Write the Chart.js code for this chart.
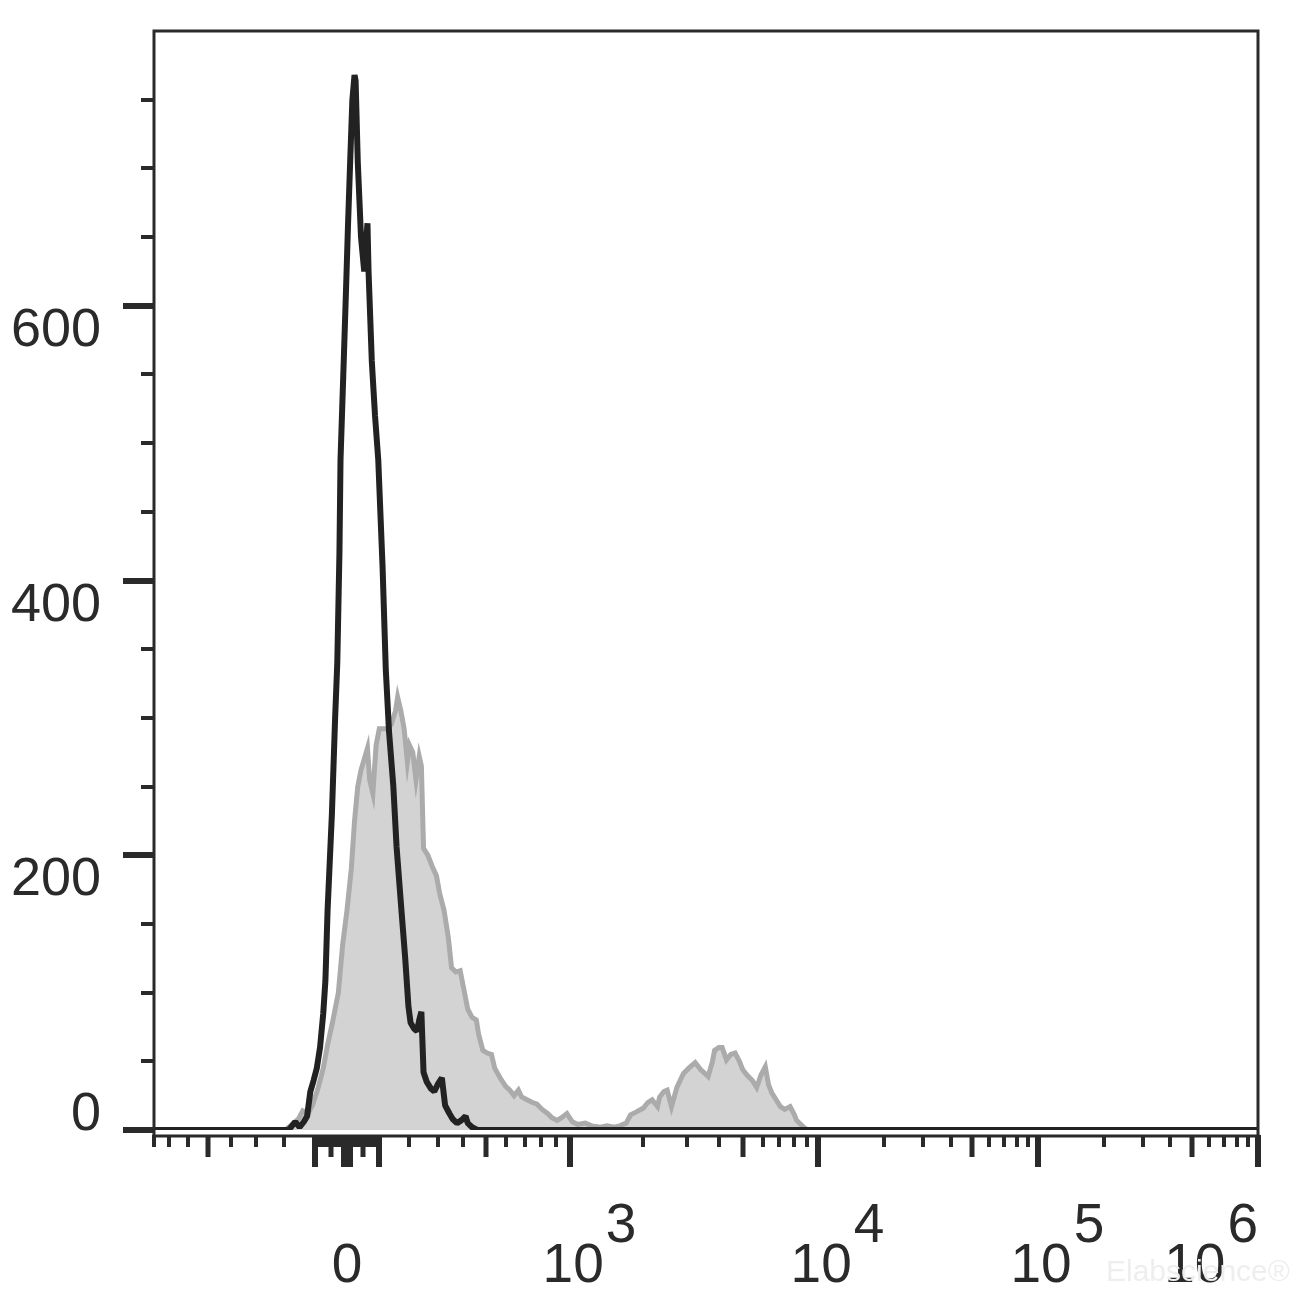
<!DOCTYPE html>
<html lang="en">
<head>
<meta charset="UTF-8" />
<title>Flow histogram overlay</title>
<script src="https://cdn.jsdelivr.net/npm/chart.js"></script>
<style>
  body { margin: 0; background: #fff; }
  #wrap { width: 1312px; height: 1310px; }
</style>
</head>
<body>
<div id="wrap"><canvas id="histChart" width="1312" height="1310"></canvas></div>
<script>
  // x = display channel (0..1024 across the axis), y = event count
  const blackChannels = [0, 124, 126, 131, 135, 139, 142, 145, 148, 151,
    154, 157, 159, 161, 163, 165, 168, 170, 172, 173,
    176, 178, 180, 182, 184, 186, 187, 189, 192, 195,
    198, 199, 202, 205, 208, 212, 215, 218, 222, 225,
    229, 233, 236, 238, 241, 244, 246, 248, 250, 253,
    257, 260, 263, 267, 270, 274, 277, 281, 285, 289,
    291, 295, 300, 1024];
  const blackCounts = [0, 0, 1, 6, 2, 6, 10, 28, 36, 45,
    60, 85, 109, 160, 195, 230, 300, 340, 420, 488,
    560, 609, 660, 706, 750, 768, 764, 705, 650, 625,
    660, 625, 560, 520, 488, 410, 335, 290, 250, 206,
    165, 125, 90, 78, 74, 72, 80, 86, 42, 35,
    30, 28, 33, 38, 18, 12, 8, 5, 7, 10,
    5, 2, 0, 0];

  const greyChannels = [0, 122, 128, 134, 138, 143, 147, 152, 157, 161,
    166, 171, 175, 179, 183, 186, 189, 192, 195, 198,
    200, 203, 206, 209, 212, 216, 220, 224, 226, 229,
    232, 235, 237, 240, 243, 246, 248, 250, 254, 258,
    262, 265, 269, 273, 276, 280, 284, 288, 291, 295,
    299, 301, 305, 309, 313, 316, 321, 326, 330, 334,
    338, 341, 346, 351, 355, 360, 365, 369, 374, 378,
    383, 388, 393, 400, 406, 414, 420, 427, 432, 438,
    442, 447, 454, 458, 462, 467, 469, 473, 476, 480,
    485, 491, 496, 502, 507, 514, 518, 520, 524, 527,
    531, 535, 539, 543, 546, 550, 555, 559, 563, 567,
    570, 573, 577, 581, 585, 590, 594, 596, 600, 604,
    607, 1024];
  const greyCounts = [0, 0, 4, 8, 14, 12, 18, 30, 45, 62,
    80, 100, 135, 160, 190, 225, 250, 262, 270, 278,
    255, 245, 280, 292, 292, 292, 295, 305, 315, 305,
    292, 268, 280, 275, 255, 272, 265, 205, 200, 192,
    185, 172, 160, 140, 118, 115, 116, 100, 88, 82,
    80, 70, 58, 56, 55, 45, 38, 32, 29, 25,
    29, 24, 22, 20, 19, 15, 12, 9, 7, 9,
    12, 6, 4, 5, 3, 2, 3, 2, 3, 5,
    11, 13, 16, 20, 22, 17, 24, 28, 29, 17,
    31, 41, 45, 49, 44, 39, 50, 58, 60, 60,
    51, 55, 56, 50, 44, 40, 36, 31, 40, 46,
    33, 27, 22, 17, 15, 17, 11, 7, 4, 1,
    0, 0];

  const yMajorTicks = [0, 200, 400, 600];
  const yMinorTicks = [50, 100, 150, 250, 300, 350, 450, 500, 550, 650, 700, 750];
  const xLabelValues = [0, 1e3, 1e4, 1e5, 1e6];
  const xLabelExponents = ['', '3', '4', '5', '6'];

  const INK = '#2a2a2a';
  const FONT = '"Liberation Sans", Arial, sans-serif';

  // biexponential-ish display transform, intensity -> channel
  function toChannel(v) {
    const a = Math.abs(v), s = Math.sign(v);
    if (a <= 1000) return 179 + s * 134.5 * Math.asinh(a / 450);
    if (a <= 1e4) return 384 + 232 * Math.log10(a / 1000);
    return 616 + 204 * Math.log10(a / 1e4);
  }

  function buildXTicks() {
    const ticks = [{ v: 0, size: 'major' }];
    [10, 100, 1000, 1e4, 1e5].forEach(d => {
      for (let m = 1; m <= 9; m++) {
        const size = m === 1 ? 'major' : (m === 5 ? 'mid' : 'minor');
        ticks.push({ v: m * d, size });
        if (d <= 100 && m * d <= 800) ticks.push({ v: -m * d, size });
      }
    });
    ticks.push({ v: 1e6, size: 'major' });
    return ticks;
  }

  const flowAxes = {
    id: 'flowAxes',
    afterDraw(chart) {
      const { ctx, chartArea: area, scales: { x, y } } = chart;
      const axisY = area.bottom + 6;
      ctx.save();
      ctx.fillStyle = INK;
      ctx.strokeStyle = INK;

      // frame
      ctx.lineWidth = 3;
      ctx.beginPath();
      ctx.moveTo(area.left, axisY);
      ctx.lineTo(area.left, area.top);
      ctx.lineTo(area.right, area.top);
      ctx.lineTo(area.right, axisY);
      ctx.stroke();
      ctx.beginPath();
      ctx.moveTo(area.left - 1.5, axisY);
      ctx.lineTo(area.right + 1.5, axisY);
      ctx.stroke();

      // x ticks
      const dims = { major: [6, 32], mid: [5, 22], minor: [4, 12] };
      buildXTicks().forEach(t => {
        const ch = Math.max(0, Math.min(1024, toChannel(t.v)));
        const px = Math.round(x.getPixelForValue(ch));
        const [w, len] = dims[t.size];
        ctx.fillRect(px - w / 2, axisY - 1, w, len);
      });

      // y ticks
      yMajorTicks.forEach(v => {
        const py = Math.round(y.getPixelForValue(v));
        ctx.fillRect(area.left - 31, py - 3, 31, 6);
      });
      yMinorTicks.forEach(v => {
        const py = Math.round(y.getPixelForValue(v));
        ctx.fillRect(area.left - 13, py - 2, 13, 4);
      });

      // y labels
      ctx.font = '54px ' + FONT;
      ctx.textAlign = 'right';
      ctx.textBaseline = 'alphabetic';
      yMajorTicks.forEach(v => {
        const py = y.getPixelForValue(v);
        ctx.fillText(String(v), 101, v === 0 ? py : py + 40);
      });

      // x labels
      ctx.font = '55px ' + FONT;
      const base = area.bottom + 152;
      xLabelValues.forEach((v, i) => {
        const px = x.getPixelForValue(toChannel(v));
        const exp = xLabelExponents[i];
        if (!exp) {
          ctx.textAlign = 'center';
          ctx.fillText('0', px, base);
          return;
        }
        const wMain = ctx.measureText('10').width;
        const wExp = ctx.measureText(exp).width;
        let left = px + 3 - wMain / 2;
        if (left + wMain + 2 + wExp > area.right) left = area.right - wExp - 2 - wMain;
        ctx.textAlign = 'left';
        ctx.fillText('10', left, base);
        ctx.fillText(exp, left + wMain + 2, base - 40);
      });

      // watermark
      ctx.fillStyle = '#eeeeee';
      ctx.font = '30px ' + FONT;
      ctx.textAlign = 'left';
      ctx.fillText('Elabscience\u00AE', 1106, 1281);
      ctx.restore();
    }
  };

  const toPoints = (xs, ys) => xs.map((c, i) => ({ x: c, y: ys[i] }));

  new Chart(document.getElementById('histChart').getContext('2d'), {
    type: 'line',
    data: {
      datasets: [
        {
          label: 'Control',
          data: toPoints(blackChannels, blackCounts),
          borderColor: '#222222',
          borderWidth: 6,
          borderJoinStyle: 'bevel',
          pointRadius: 0,
          tension: 0,
          fill: false,
          order: 0
        },
        {
          label: 'Stained',
          data: toPoints(greyChannels, greyCounts),
          borderColor: '#ababab',
          backgroundColor: '#d3d3d3',
          borderWidth: 5,
          pointRadius: 0,
          tension: 0,
          fill: 'origin',
          order: 1
        }
      ]
    },
    options: {
      responsive: false,
      animation: false,
      devicePixelRatio: 1,
      layout: { padding: { left: 154, right: 54, top: 31, bottom: 180 } },
      plugins: { legend: { display: false }, tooltip: { enabled: false } },
      scales: {
        x: { type: 'linear', min: 0, max: 1024, display: false },
        y: { type: 'linear', min: 0, max: 800, display: false }
      }
    },
    plugins: [flowAxes]
  });
</script>
</body>
</html>
